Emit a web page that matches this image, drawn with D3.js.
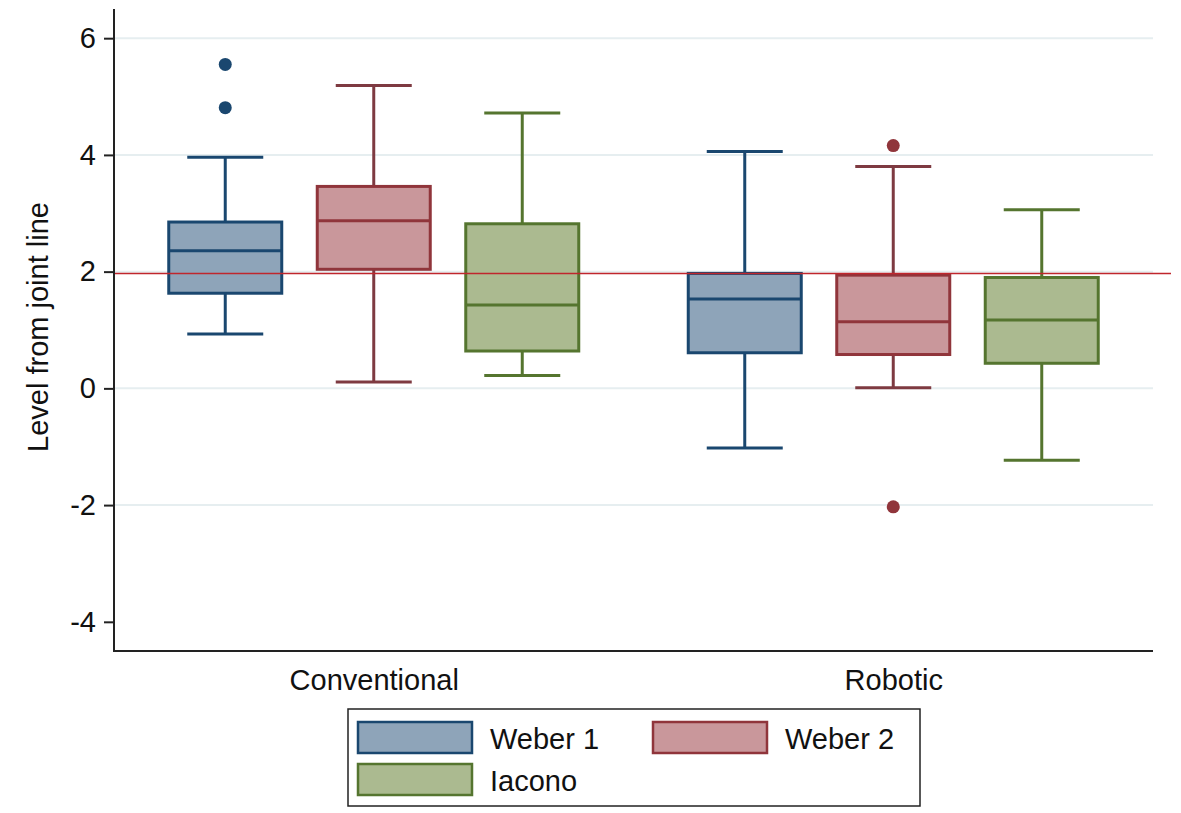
<!DOCTYPE html>
<html>
<head>
<meta charset="utf-8">
<script src="https://cdn.jsdelivr.net/npm/d3@7"></script>
<style>
  html, body { margin: 0; padding: 0; background: #fff; }
  svg { display: block; font-family: "Liberation Sans", Arial, sans-serif; }
</style>
</head>
<body>
<svg id="chart" width="1181" height="813"></svg>
<script>
// ---- Data ----
const groups = ["Conventional", "Robotic"];
const series = ["Weber 1", "Weber 2", "Iacono"];
// values indexed [group][series]
const lowerWhisker = [[0.93, 0.11, 0.22], [-1.02, 0.01, -1.23]];
const q1           = [[1.63, 2.04, 0.64], [0.61, 0.58, 0.43]];
const median       = [[2.36, 2.87, 1.43], [1.53, 1.14, 1.17]];
const q3           = [[2.85, 3.46, 2.82], [1.97, 1.94, 1.90]];
const upperWhisker = [[3.96, 5.19, 4.72], [4.06, 3.80, 3.06]];
const outlierGroup  = ["Conventional", "Conventional", "Robotic", "Robotic"];
const outlierSeries = ["Weber 1", "Weber 1", "Weber 2", "Weber 2"];
const outlierValue  = [5.55, 4.81, 4.16, -2.03];
const yTicks = [-4, -2, 0, 2, 4, 6];
const gridTicks = [-2, 0, 2, 4, 6];
const refLine = 1.97;
const yTitle = "Level from joint line";

// ---- Styles ----
const strokeColors  = ["#1a476f", "#90353b", "#55752f"];
const whiskerColors = ["#1a476f", "#7e3a41", "#55752f"];
const fillColors    = ["#8ea4b9", "#c9979b", "#abba90"];
const FS = 29;

const svg = d3.select("#chart");
const plot = { left: 114, right: 1153, top: 9, bottom: 651 };

const y = d3.scaleLinear().domain([-4.5, 6.5]).range([plot.bottom, plot.top]);
const xGroup = d3.scalePoint().domain(groups).range([plot.left, plot.right]).padding(0.5);
const xInner = d3.scalePoint().domain(series).range([-148.5, 148.5]);
const boxW = 113, capW = 76;

// gridlines
svg.append("g").selectAll("line").data(gridTicks).join("line")
  .attr("x1", plot.left).attr("x2", plot.right)
  .attr("y1", d => y(d)).attr("y2", d => y(d))
  .attr("stroke", "#e6eef0").attr("stroke-width", 2);

// build box records
const boxes = [];
groups.forEach((g, gi) => series.forEach((s, si) => {
  boxes.push({ g, s, si, lo: lowerWhisker[gi][si], q1: q1[gi][si], med: median[gi][si],
               q3: q3[gi][si], hi: upperWhisker[gi][si], cx: xGroup(g) + xInner(s) });
}));

const bx = svg.append("g").selectAll("g").data(boxes).join("g");
// whiskers
bx.append("line").attr("x1", d => d.cx).attr("x2", d => d.cx)
  .attr("y1", d => y(d.q3)).attr("y2", d => y(d.hi))
  .attr("stroke", d => whiskerColors[d.si]).attr("stroke-width", 3);
bx.append("line").attr("x1", d => d.cx).attr("x2", d => d.cx)
  .attr("y1", d => y(d.q1)).attr("y2", d => y(d.lo))
  .attr("stroke", d => whiskerColors[d.si]).attr("stroke-width", 3);
// caps
bx.append("line").attr("x1", d => d.cx - capW / 2).attr("x2", d => d.cx + capW / 2)
  .attr("y1", d => y(d.hi)).attr("y2", d => y(d.hi))
  .attr("stroke", d => whiskerColors[d.si]).attr("stroke-width", 3);
bx.append("line").attr("x1", d => d.cx - capW / 2).attr("x2", d => d.cx + capW / 2)
  .attr("y1", d => y(d.lo)).attr("y2", d => y(d.lo))
  .attr("stroke", d => whiskerColors[d.si]).attr("stroke-width", 3);
// box
bx.append("rect").attr("x", d => d.cx - boxW / 2).attr("width", boxW)
  .attr("y", d => y(d.q3)).attr("height", d => y(d.q1) - y(d.q3))
  .attr("fill", d => fillColors[d.si]).attr("stroke", d => strokeColors[d.si]).attr("stroke-width", 3);
// median
bx.append("line").attr("x1", d => d.cx - boxW / 2).attr("x2", d => d.cx + boxW / 2)
  .attr("y1", d => y(d.med)).attr("y2", d => y(d.med))
  .attr("stroke", d => strokeColors[d.si]).attr("stroke-width", 3);

// outliers
svg.append("g").selectAll("circle").data(outlierValue).join("circle")
  .attr("cx", (d, i) => xGroup(outlierGroup[i]) + xInner(outlierSeries[i]))
  .attr("cy", d => y(d)).attr("r", 6.5)
  .attr("fill", (d, i) => strokeColors[series.indexOf(outlierSeries[i])]);

// reference line
svg.append("line").attr("x1", plot.left).attr("x2", 1171)
  .attr("y1", y(refLine)).attr("y2", y(refLine))
  .attr("stroke", "#c0262c").attr("stroke-width", 1.5);

// axes
const yAxis = svg.append("g").attr("transform", `translate(${plot.left},0)`)
  .call(d3.axisLeft(y).tickValues(yTicks).tickSize(10).tickPadding(8).tickFormat(d3.format("d")));
yAxis.select(".domain").remove();
yAxis.selectAll(".tick line").attr("stroke", "#222").attr("stroke-width", 2);
yAxis.selectAll(".tick text").attr("font-size", FS).attr("fill", "#111")
  .attr("font-family", "Liberation Sans, Arial, sans-serif")
  .text(d => d < 0 ? "-" + Math.abs(d) : d);

svg.append("line").attr("x1", plot.left).attr("x2", plot.left).attr("y1", plot.top).attr("y2", plot.bottom + 1)
  .attr("stroke", "#222").attr("stroke-width", 2);
svg.append("line").attr("x1", plot.left - 1).attr("x2", plot.right).attr("y1", plot.bottom).attr("y2", plot.bottom)
  .attr("stroke", "#222").attr("stroke-width", 2);

const xAxis = svg.append("g").attr("transform", `translate(0,${plot.bottom})`)
  .call(d3.axisBottom(xGroup).tickSize(0).tickPadding(18));
xAxis.select(".domain").remove();
xAxis.selectAll(".tick text").attr("font-size", FS).attr("fill", "#111")
  .attr("font-family", "Liberation Sans, Arial, sans-serif");

// y title
svg.append("text").attr("transform", `translate(48,327) rotate(-90)`)
  .attr("text-anchor", "middle").attr("font-size", FS).attr("fill", "#111")
  .text(yTitle);

// legend
const legend = svg.append("g");
legend.append("rect").attr("x", 348).attr("y", 709).attr("width", 572).attr("height", 97)
  .attr("fill", "#fff").attr("stroke", "#222").attr("stroke-width", 1.5);
const legPos = [[358, 722], [653, 722], [358, 764]];
series.forEach((s, i) => {
  const [lx, ly] = legPos[i];
  legend.append("rect").attr("x", lx).attr("y", ly).attr("width", 114).attr("height", 31)
    .attr("fill", fillColors[i]).attr("stroke", strokeColors[i]).attr("stroke-width", 2.5);
  legend.append("text").attr("x", lx + 132).attr("y", ly + 27).attr("font-size", FS).attr("fill", "#111")
    .text(s);
});
</script>
</body>
</html>
